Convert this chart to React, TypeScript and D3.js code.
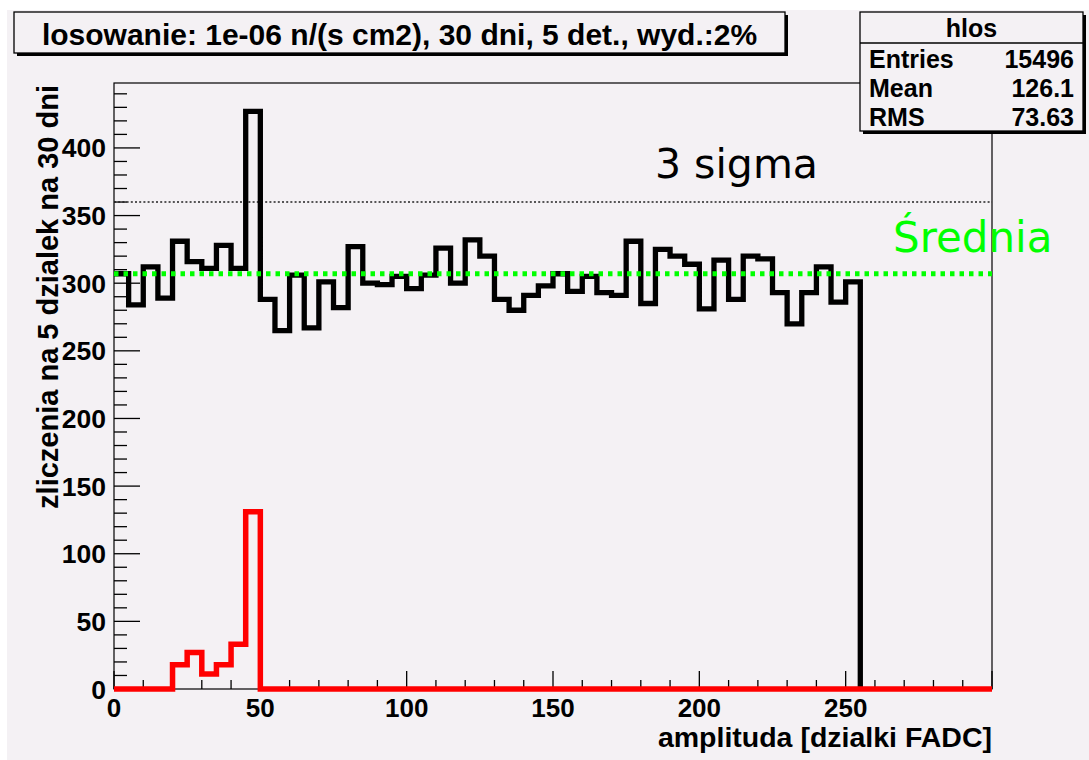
import React from "react";
import * as d3 from "d3";

// ---- data ----
const binWidth = 5;
const blackCounts = [
  307, 284, 312, 289, 331, 316, 311, 328, 311, 427, 288, 265, 306, 267, 301, 282, 327,
  300, 299, 305, 296, 306, 326, 300, 332, 320, 288, 280, 291, 298, 307, 294, 305, 293,
  291, 331, 285, 325, 320, 314, 281, 317, 288, 320, 318, 293, 270, 293, 312, 286, 301,
];
const redCounts = [0, 0, 0, 0, 18, 27, 11, 18, 33, 131];
const meanLevel = 307;
const sigmaLevel = 360;
const xTickLabels = [0, 50, 100, 150, 200, 250];
const yTickLabels = [0, 50, 100, 150, 200, 250, 300, 350, 400];
const titleText = "losowanie: 1e-06 n/(s cm2), 30 dni, 5 det., wyd.:2%";
const statsName = "hlos";
const statsRows = [
  ["Entries", "15496"],
  ["Mean", "126.1"],
  ["RMS", "73.63"],
];
const xTitle = "amplituda [dzialki FADC]";
const yTitle = "zliczenia na 5 dzialek na 30 dni";
const X_MAX = 300;
const Y_MAX = 448;

const W = 1089;
const H = 760;
const BG = "#f4f1f4";
const FONT = "'Liberation Sans', Arial, Helvetica, sans-serif";
const FONT2 = "'DejaVu Sans', sans-serif";

export default function App() {
  const left = 114, right = 992, top = 83, bottom = 689;
  const x = d3.scaleLinear().domain([0, X_MAX]).range([left, right]);
  const y = d3.scaleLinear().domain([0, Y_MAX]).range([bottom, top]);

  const line = d3
    .line<[number, number]>()
    .x((d) => x(d[0]))
    .y((d) => y(d[1]))
    .curve(d3.curveStepAfter);

  const blackPts: [number, number][] = blackCounts.map((v, i) => [i * binWidth, v]);
  const blackEnd = blackCounts.length * binWidth;
  blackPts.push([blackEnd, blackCounts[blackCounts.length - 1]]);
  const blackPath = line(blackPts) + `L${x(blackEnd)},${y(0)}`;

  const redPts: [number, number][] = redCounts.map((v, i) => [i * binWidth, v]);
  redPts.push([redCounts.length * binWidth, 0]);
  redPts.push([X_MAX, 0]);
  const redPath = line(redPts);

  const xMinor = d3.range(0, X_MAX + 0.1, 10);
  const yMinor = d3.range(0, Y_MAX, 10);

  return (
    <svg
      width={W}
      height={H}
      style={{ position: "absolute", left: 0, top: 0 }}
      xmlns="http://www.w3.org/2000/svg"
    >
      <rect x={0} y={0} width={W} height={H} fill="#ffffff" />
      <rect x={7} y={10} width={W - 7} height={H - 10} fill={BG} />

      {/* frame */}
      <rect x={left} y={top} width={right - left} height={bottom - top} fill={BG} stroke="#000" strokeWidth={1.2} />

      {/* y ticks */}
      {yMinor.map((v) => (
        <line key={"ym" + v} x1={left} x2={left + (v % 50 === 0 ? 26 : 13)} y1={y(v)} y2={y(v)} stroke="#000" strokeWidth={1.3} />
      ))}
      {/* x ticks */}
      {xMinor.map((v) => (
        <line key={"xm" + v} y1={bottom} y2={bottom - (v % 50 === 0 ? 18 : 9)} x1={x(v)} x2={x(v)} stroke="#000" strokeWidth={1.3} />
      ))}

      {/* 3 sigma line */}
      <line x1={left} x2={right} y1={y(sigmaLevel)} y2={y(sigmaLevel)} stroke="#222" strokeWidth={1.6} strokeDasharray="2 2.2" />

      {/* black histogram */}
      <path d={blackPath} fill="none" stroke="#000" strokeWidth={5.3} strokeLinejoin="miter" />

      {/* mean line */}
      <line x1={left} x2={right} y1={y(meanLevel)} y2={y(meanLevel)} stroke="#00ff00" strokeWidth={4.8} strokeDasharray="4.5 5" />

      {/* red histogram */}
      <path d={redPath ?? ""} fill="none" stroke="#ff0000" strokeWidth={5.5} strokeLinejoin="miter" />

      {/* tick labels */}
      {yTickLabels.map((v) => (
        <text key={"yl" + v} x={106} y={y(v) + 9.5} textAnchor="end" fontFamily={FONT} fontWeight="bold" fontSize={26.5} fill="#000">
          {v}
        </text>
      ))}
      {xTickLabels.map((v) => (
        <text key={"xl" + v} x={x(v)} y={717} textAnchor="middle" fontFamily={FONT} fontWeight="bold" fontSize={26} fill="#000">
          {v}
        </text>
      ))}

      {/* axis titles */}
      <text x={right} y={747} textAnchor="end" fontFamily={FONT} fontWeight="bold" fontSize={28.5} fill="#000">
        {xTitle}
      </text>
      <text transform={`translate(58,${top + 2}) rotate(-90)`} textAnchor="end" fontFamily={FONT} fontWeight="bold" fontSize={29} fill="#000">
        {yTitle}
      </text>

      {/* annotations */}
      <text x={655} y={178} fontFamily={FONT2} fontSize={41} fill="#000">3 sigma</text>
      <text x={893} y={252} fontFamily={FONT2} fontSize={42} fill="#00ff00">Średnia</text>

      {/* title box */}
      <rect x={17} y={15} width={771} height={41} fill="#000" />
      <rect x={14} y={12} width={771} height={41} fill={BG} stroke="#000" strokeWidth={1.3} />
      <text x={399.5} y={45} textAnchor="middle" fontFamily={FONT} fontWeight="bold" fontSize={30} fill="#000">
        {titleText}
      </text>

      {/* stats box */}
      <rect x={863} y={15} width={223} height={119} fill="#000" />
      <rect x={860} y={12} width={223} height={119} fill={BG} stroke="#000" strokeWidth={1.3} />
      <line x1={860} x2={1083} y1={43} y2={43} stroke="#000" strokeWidth={1.3} />
      <text x={971.5} y={37} textAnchor="middle" fontFamily={FONT} fontWeight="bold" fontSize={25} fill="#000">
        {statsName}
      </text>
      {statsRows.map((r, i) => (
        <g key={r[0]}>
          <text x={869} y={68 + i * 29} fontFamily={FONT} fontWeight="bold" fontSize={25} fill="#000">{r[0]}</text>
          <text x={1074} y={68 + i * 29} textAnchor="end" fontFamily={FONT} fontWeight="bold" fontSize={25} fill="#000">{r[1]}</text>
        </g>
      ))}
    </svg>
  );
}
